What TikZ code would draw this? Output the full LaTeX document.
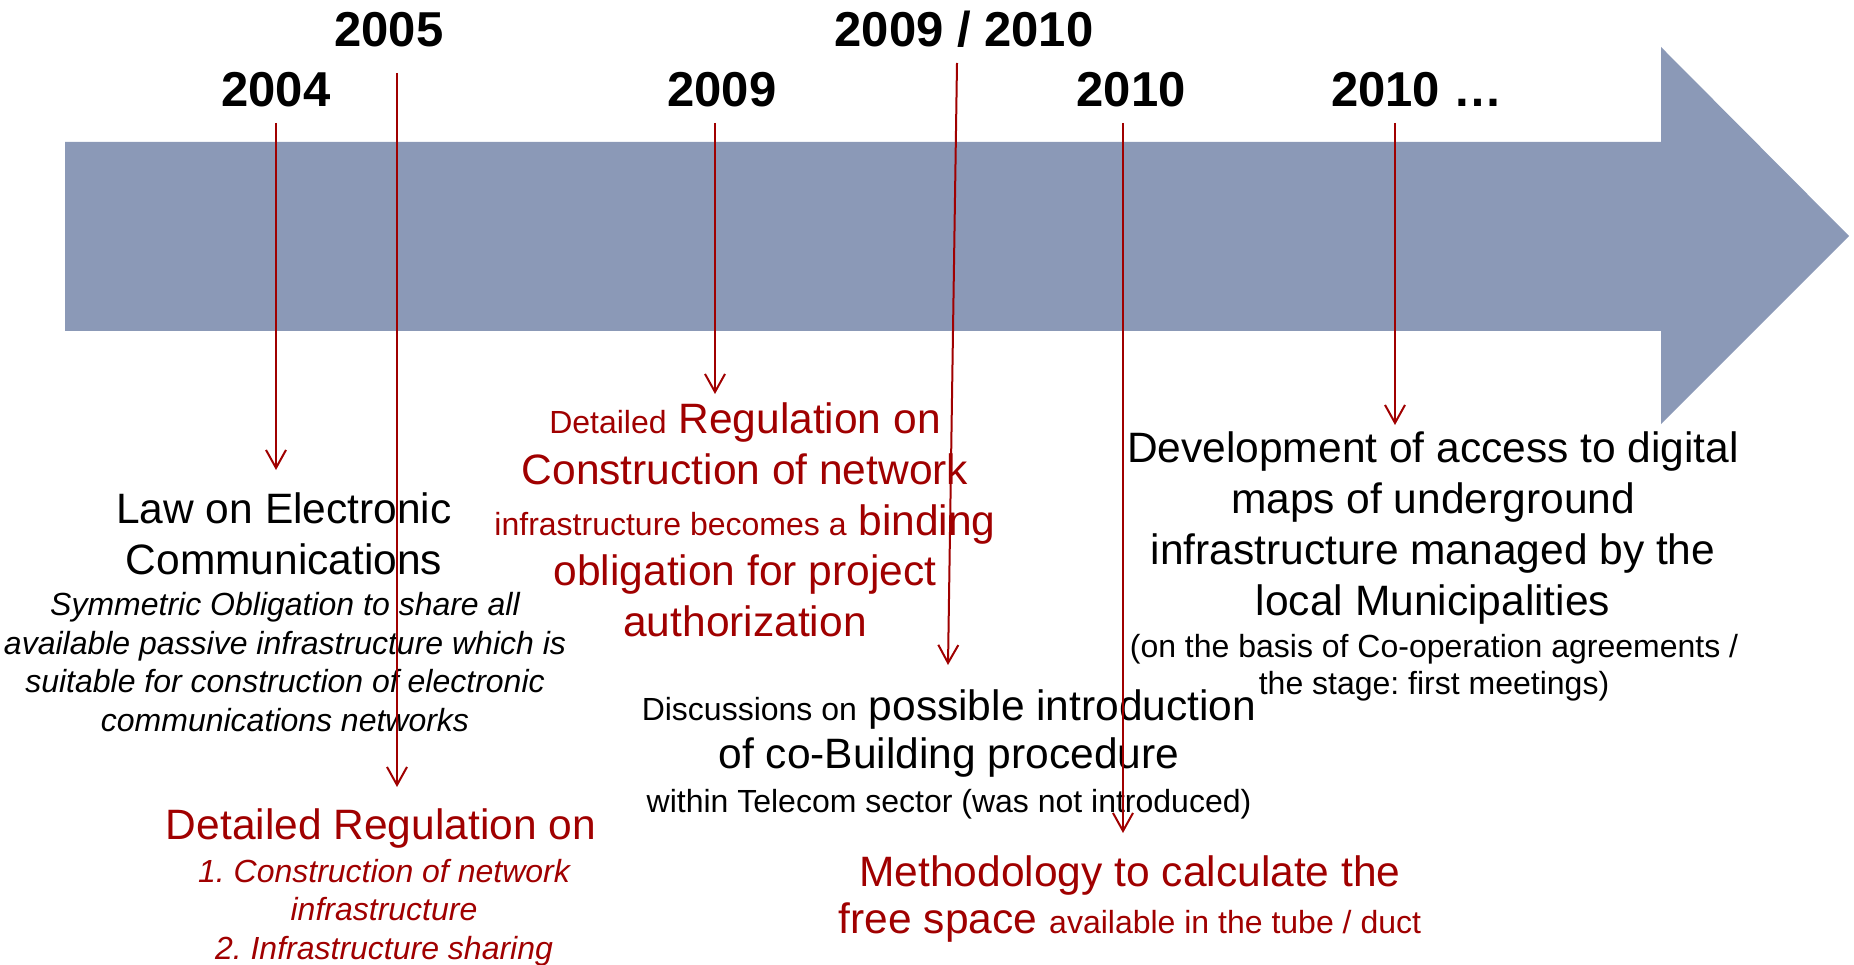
\documentclass[tikz,border=0pt]{standalone}
\usepackage{fontspec}
\setmainfont{Liberation Sans}
\usetikzlibrary{arrows.meta}
\definecolor{barblue}{RGB}{139,153,183}
\definecolor{dred}{RGB}{160,0,0}
\newcommand{\bigf}{\fontsize{42.5}{51}\selectfont}
\newcommand{\smf}{\fontsize{32}{38.6}\selectfont}
\frenchspacing
\begin{document}
\frenchspacing
\begin{tikzpicture}[x=1pt,y=-1pt,
  year/.style={font=\fontsize{49}{58}\selectfont\bfseries, inner sep=0, anchor=base},
  evt/.style={inner sep=0, align=center, font=\bigf},
  sub/.style={inner sep=0, align=center, font=\smf},
  ptr/.style={draw=dred, line width=2pt, -{Straight Barb[length=18pt,width=20pt]}}]
\useasboundingbox (0,0) rectangle (1854,965);
% timeline bar
\fill[barblue] (65,142) -- (1661,142) -- (1661,47) -- (1849,236) -- (1661,424) -- (1661,331) -- (65,331) -- cycle;
% years
\node[year] (y2004) at (276,107) {2004};
\node[year] (y2005) at (389,47) {2005};
\node[year] (y2009) at (722,107) {2009};
\node[year] (y2009b) at (964,47) {2009 / 2010};
\node[year] (y2010) at (1131,107) {2010};
\node[year] (y2010b) at (1417,107) {2010 …};
% events
\node[evt] (law) at (284,534) {Law on Electronic\\Communications};
\node[sub, font=\smf\itshape] (lawd) at (285,662) {Symmetric Obligation to share all\\available passive infrastructure which is\\suitable for construction of electronic\\communications networks};
\node[evt, text=dred] (reg) at (381,828.5) {Detailed Regulation on};
\node[sub, font=\smf\itshape, text=dred] (regd) at (384,912.5) {1. Construction of network\\infrastructure\\2. Infrastructure sharing};
\node[evt, text=dred, font=\fontsize{42.5}{50.75}\selectfont] (oblig) at (745,520) {{\smf Detailed} Regulation on\\Construction of network\\{\smf infrastructure becomes a} binding\\obligation for project\\authorization};
\node[evt, font=\fontsize{42.5}{48}\selectfont] (cob) at (949,754.5) {{\smf Discussions on} possible introduction\\of co-Building procedure\\[-4.7pt]{\smf within Telecom sector (was not introduced)}};
\node[evt, text=dred] (meth) at (1130,899) {Methodology to calculate the\\[-3.5pt]free space {\smf available in the tube / duct}};
\node[evt] (maps) at (1433,528.5) {Development of access to digital\\maps of underground\\infrastructure managed by the\\local Municipalities};
\node[sub, font=\fontsize{32}{37}\selectfont] (mapsd) at (1434,667.5) {(on the basis of Co-operation agreements /\\the stage: first meetings)};
% pointer coordinates
\coordinate (s1) at (276,123); \coordinate (e1) at (276,470);
\coordinate (s2) at (397,73);  \coordinate (e2) at (397,787);
\coordinate (s3) at (715,123); \coordinate (e3) at (715,394);
\coordinate (s4) at (957,63);  \coordinate (e4) at (948,665);
\coordinate (s5) at (1123,123); \coordinate (e5) at (1123,833);
\coordinate (s6) at (1395,123); \coordinate (e6) at (1395,425);
\draw[ptr] (s1) -- (e1);
\draw[ptr] (s2) -- (e2);
\draw[ptr] (s3) -- (e3);
\draw[ptr] (s4) -- (e4);
\draw[ptr] (s5) -- (e5);
\draw[ptr] (s6) -- (e6);
\end{tikzpicture}
\end{document}
